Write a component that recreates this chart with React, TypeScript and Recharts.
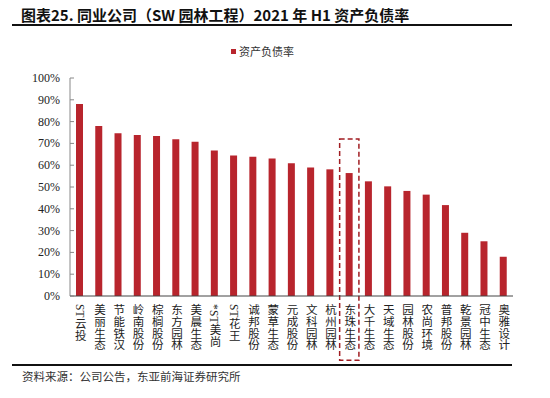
import React from 'react';
import { BarChart, Bar, XAxis, YAxis, ReferenceArea } from 'recharts';

const companies = [
  'ST云投', '美丽生态', '节能铁汉', '岭南股份', '棕榈股份', '东方园林', '美晨生态', '*ST美尚',
  'ST花王', '诚邦股份', '蒙草生态', '元成股份', '文科园林', '杭州园林', '东珠生态', '大千生态',
  '天域生态', '园林股份', '农尚环境', '普邦股份', '乾景园林', '冠中生态', '奥雅设计',
];
const debtRatio = [
  88.1, 78.0, 74.6, 73.9, 73.4, 71.9, 70.8, 66.7,
  64.5, 63.9, 63.1, 60.9, 59.0, 58.1, 56.4, 52.6,
  50.3, 48.2, 46.5, 41.7, 29.0, 25.1, 18.0,
];
const yTicks = [0, 10, 20, 30, 40, 50, 60, 70, 80, 90, 100];
const highlightCompany = '东珠生态';
const titleText = '图表25. 同业公司（SW 园林工程）2021 年 H1 资产负债率';
const seriesName = '资产负债率';
const sourceText = '资料来源：公司公告，东亚前海证券研究所';

const data = companies.map((name, i) => ({ name, value: debtRatio[i] }));

const BAR_COLOR = '#b8252d';
const CJK = '"Noto Sans CJK SC", sans-serif';
const SERIF = '"Liberation Serif", serif';

const XTick = (props: any) => {
  const { x, y, payload } = props;
  return (
    <text
      x={x}
      y={y}
      fontSize={11.5}
      fill="#222"
      fontFamily={'"Liberation Serif", "Noto Sans CJK SC", sans-serif'}
      letterSpacing={0.2}
      style={{ writingMode: 'vertical-rl' as any }}
    >
      {payload.value}
    </text>
  );
};

const YTick = (props: any) => {
  const { x, y, payload } = props;
  return (
    <g>
      <text x={x} y={y} dy={4} textAnchor="end" fontSize={12} fontFamily={SERIF} fill="#222">
        {payload.value}%
      </text>
      <line x1={x + 10} x2={x + 14} y1={y} y2={y} stroke="#888" />
    </g>
  );
};

export default function App() {
  return (
    <div style={{ position: 'absolute', left: 0, top: 0, width: 550, height: 398, background: '#fff', overflow: 'hidden' }}>
      <BarChart width={550} height={398} data={data} margin={{ top: 78, right: 37, bottom: 42, left: 20 }}>
        <YAxis
          domain={[0, 100]}
          ticks={yTicks}
          width={50}
          tickSize={0}
          tickMargin={10}
          tick={<YTick />}
          axisLine={{ stroke: '#888' }}
          tickLine={false}
          interval={0}
        />
        <XAxis
          dataKey="name"
          height={60}
          interval={0}
          tickSize={0}
          tickMargin={8}
          tickLine={false}
          tick={<XTick />}
          axisLine={{ stroke: '#444' }}
        />
        <Bar dataKey="value" fill={BAR_COLOR} barSize={7} isAnimationActive={false} />
        <ReferenceArea
          x1={highlightCompany}
          x2={highlightCompany}
          y1={-29.5}
          y2={72}
          ifOverflow="visible"
          fill="none"
          fillOpacity={0}
          stroke="#a11d22"
          strokeWidth={1.5}
          strokeDasharray="5 3"
        />
      </BarChart>
      <div style={{ position: 'absolute', left: 21, top: 5, fontFamily: CJK, fontWeight: 700, fontSize: 15, lineHeight: '20px', color: '#111', whiteSpace: 'nowrap' }}>
        {titleText}
      </div>
      <div style={{ position: 'absolute', left: 12, top: 24, width: 500, height: 2, background: '#111' }} />
      <div style={{ position: 'absolute', left: 231, top: 43, display: 'flex', alignItems: 'center', fontFamily: CJK, fontSize: 11, color: '#333', whiteSpace: 'nowrap' }}>
        <span style={{ display: 'inline-block', width: 5, height: 5, background: BAR_COLOR, marginRight: 3 }} />
        <span>{seriesName}</span>
      </div>
      <div style={{ position: 'absolute', left: 12, top: 364, width: 500, height: 2, background: '#111' }} />
      <div style={{ position: 'absolute', left: 22, top: 368, fontFamily: CJK, fontSize: 11.5, lineHeight: '16px', color: '#333', whiteSpace: 'nowrap' }}>
        {sourceText}
      </div>
    </div>
  );
}
